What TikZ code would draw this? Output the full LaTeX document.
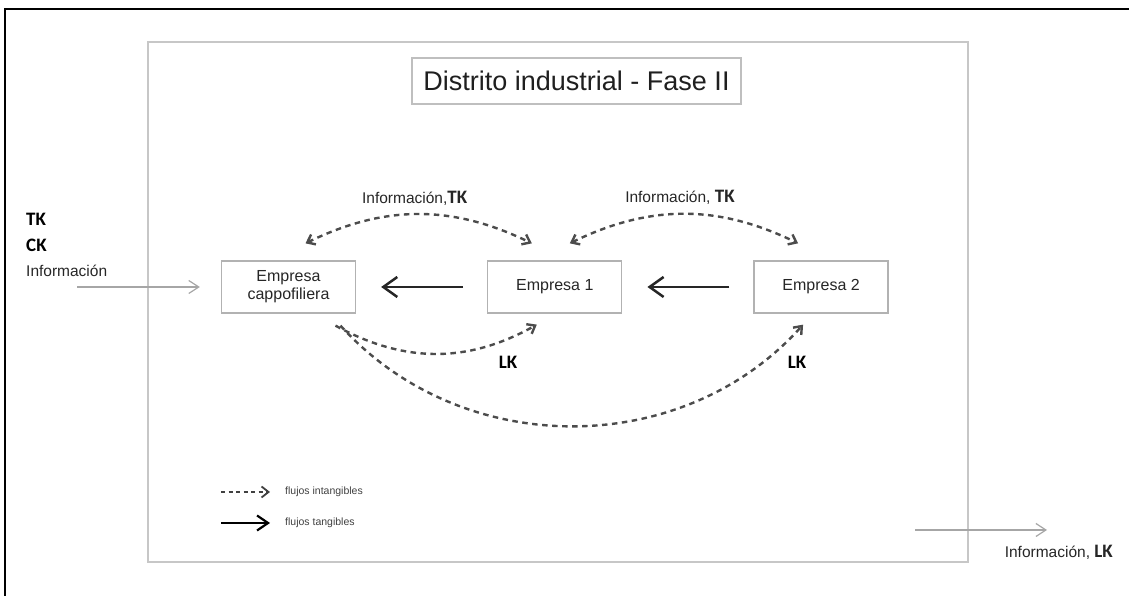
\documentclass[tikz,border=0pt]{standalone}
\usepackage{fontspec}
\setmainfont{Liberation Sans}
\newfontfamily\kfont{Carlito}
\usetikzlibrary{calc}
\usetikzlibrary{arrows.meta}
\usetikzlibrary{positioning}

\begin{document}
\begin{tikzpicture}[x=1pt, y=1pt,
  empresa/.style={draw=black!30, line width=1.3pt, minimum width=134pt, minimum height=52pt, align=center, inner sep=2pt, text=black!85, font=\fontsize{16}{18}\selectfont},
  etiqueta/.style={text=black!85, inner sep=1pt, font=\fontsize{15.5}{17}\selectfont},
  kmark/.style={text=black, inner sep=1pt, font=\kfont\bfseries\fontsize{19}{21}\selectfont},
  flujo/.style={black!70, line width=2.4pt, dash pattern=on 5.5pt off 4.5pt, >={Straight Barb[length=7pt,width=11pt]}},
  tangible/.style={black!85, line width=2.5pt, -{Straight Barb[length=14pt,width=20pt]}},
  insumo/.style={black!35, line width=1.2pt, -{Straight Barb[length=10pt,width=13pt]}},
  leyenda/.style={anchor=west, text=black!75, inner sep=1pt, font=\fontsize{10.5}{12}\selectfont}]
\useasboundingbox (0,0) rectangle (1129,596);
\draw[black, line width=1.5pt] (1129,587) -- (5,587) -- (5,0);
\draw[black!22, line width=1.5pt] (148,34) rectangle (968,554);
\node[draw=black!25, line width=1.3pt, minimum width=329pt, minimum height=46pt, text=black!88, font=\fontsize{27}{31}\selectfont] (titulo) at (576.5,515) {Distrito industrial - Fase II};

\node[empresa] (cap) at (288.5,309) {Empresa\\cappofiliera};
\node[empresa, right=131pt of cap] (e1) {Empresa 1};
\node[empresa, right=131pt of e1] (e2) {Empresa 2};

\draw[tangible, shorten >=25pt, shorten <=24pt] (e1) -- (cap);
\draw[tangible, shorten >=25pt, shorten <=24pt] (e2) -- (e1);

\draw[flujo, <->] ($(cap.north)+(17,17)$) to[bend left=26]
  node[etiqueta, midway, above=7pt, xshift=-4pt] (inf1) {Información,{\kfont\bfseries\fontsize{19}{21}\selectfont TK}}
  ($(e1.north)+(-23,17)$);
\draw[flujo, <->] ($(e1.north)+(15,17)$) to[bend left=26]
  node[etiqueta, midway, above=7pt, xshift=-4pt] (inf2) {Información, {\kfont\bfseries\fontsize{19}{21}\selectfont TK}}
  ($(e2.north)+(-23,17)$);

\draw[flujo, ->] ($(cap.south)+(47,-12)$) to[bend right=29] ($(e1.south)+(-18,-11)$);
\draw[flujo, ->] ($(cap.south)+(52,-12)$) to[bend right=48] ($(e2.south)+(-18,-11)$);
\node[kmark] (lk1) at (508,234) {LK};
\node[kmark] (lk2) at (797,234) {LK};

\foreach \k/\y in {TK/377, CK/351}
  \node[kmark, anchor=west] (k\k) at (25,\y) {\k};
\node[etiqueta, anchor=west] (infin) at (25,325) {Información};
\coordinate (entrada) at (77,309);
\draw[insumo, shorten >=21pt] (entrada) -- (cap);

\coordinate (salida1) at (915,66);
\coordinate (salida2) at (1047,66);
\draw[insumo] (salida1) -- (salida2);
\node[etiqueta, anchor=east] (infout) at (1114,44) {Información, {\kfont\bfseries\fontsize{19}{21}\selectfont LK}};

\coordinate (ley1a) at (221,104);
\coordinate (ley1b) at (270,104);
\coordinate (ley2a) at (221,73);
\coordinate (ley2b) at (270,73);
\draw[black!75, line width=1.8pt, dash pattern=on 4pt off 3.5pt, -{Straight Barb[length=7pt,width=11pt]}] (ley1a) -- (ley1b);
\draw[black, line width=2.2pt, -{Straight Barb[length=11pt,width=15pt]}] (ley2a) -- (ley2b);
\node[leyenda] (ley1) at (284,104) {flujos intangibles};
\node[leyenda] (ley2) at (284,73) {flujos tangibles};
\end{tikzpicture}
\end{document}
